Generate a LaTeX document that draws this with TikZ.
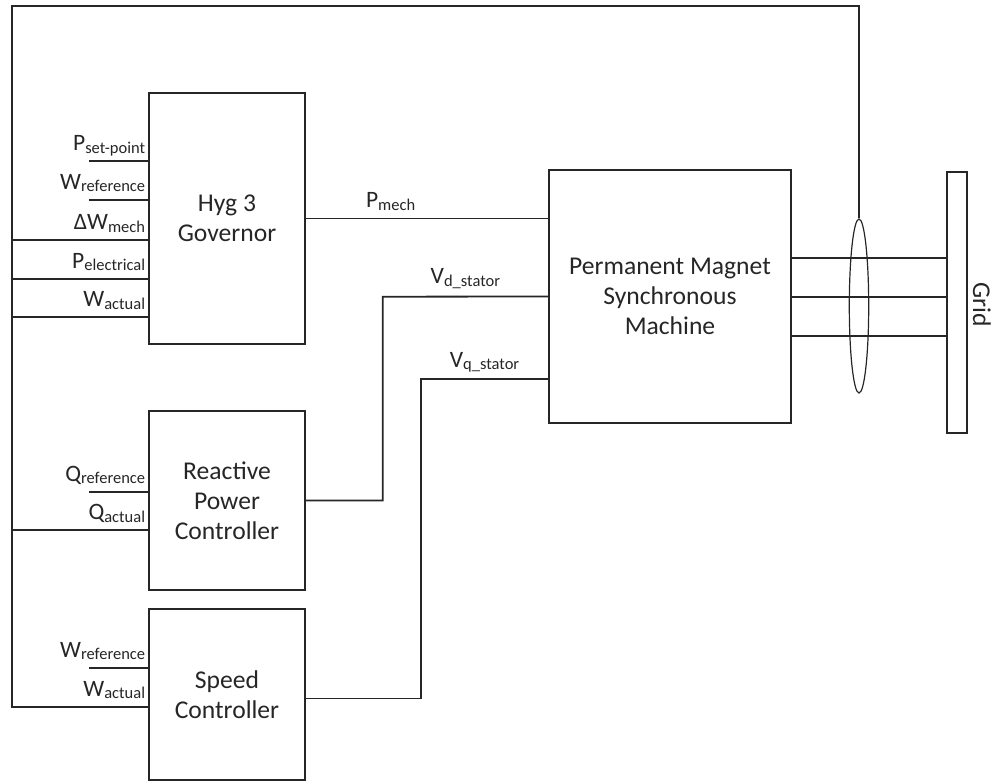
\documentclass[tikz,border=0pt]{standalone}
\usepackage{fontspec}
\setmainfont{Carlito}
\usetikzlibrary{shapes.geometric}
\newcommand{\sbs}[1]{\raisebox{-2.5pt}{\fontsize{16.5}{18}\selectfont #1}}

\begin{document}
\begin{tikzpicture}[x=1pt,y=-1pt,line width=1.8pt,draw=black!85,text=black!85,
	block/.style = {draw, rectangle, inner sep=0pt, align=center, font=\fontsize{25.6}{30}\selectfont},
	sig/.style = {anchor=base east, inner sep=0pt, font=\fontsize{23.5}{26}\selectfont},
	outsig/.style = {anchor=base, inner sep=0pt, font=\fontsize{23.5}{26}\selectfont}]
	\useasboundingbox (0,0) rectangle (993,784);
	% blocks
	\node [block, minimum width=156, minimum height=251] (hyg) at (227,218.5) {Hyg 3\\Governor};
	\node [block, minimum width=156, minimum height=179] (rpc) at (227,500.5) {Reactive\\Power\\Controller};
	\node [block, minimum width=156, minimum height=171] (spd) at (227,694.5) {Speed\\Controller};
	\node [block, minimum width=242, minimum height=253] (pmsm) at (670,296.5) {Permanent Magnet\\Synchronous\\Machine};
	\node [block, minimum width=20, minimum height=261] (grid) at (956.7,302.5) {};
	\node [rotate=-90, font=\fontsize{25.6}{30}\selectfont] (gridlbl) at (982,305) {Grid};
	% three phase connection and measurement
	\foreach \y in {258.3,297,336}
		\draw (pmsm.east |- 0,\y) -- (grid.west |- 0,\y);
	\node [draw, ellipse, minimum width=19.4, minimum height=174, inner sep=0pt, line width=1.2pt] (ell) at (859,306) {};
	% feedback bus
	\coordinate (bustop) at (12,6);
	\coordinate (busbot) at (12,706.7);
	\draw (ell.north) |- (bustop) -- (busbot) -- (spd.west |- busbot);
	\foreach \y in {240,278.7,317}
		\draw (bustop |- 0,\y) -- (hyg.west |- 0,\y);
	\draw (bustop |- 0,530) -- (rpc.west |- 0,530);
	% reference inputs
	\foreach \y in {161,199.7}
		\draw (89,\y) -- (hyg.west |- 0,\y);
	\draw (89,491.7) -- (rpc.west |- 0,491.7);
	\draw (89,667.7) -- (spd.west |- 0,667.7);
	% input labels
	\node [sig] (pset) at (146,150.5) {P\sbs{set-point}};
	\node [sig] (wref) at (146,189.2) {W\sbs{reference}};
	\node [sig] (dwmech) at (146,229.5) {ΔW\sbs{mech}};
	\node [sig] (pelec) at (146,268.2) {P\sbs{electrical}};
	\node [sig] (wact) at (146,306.5) {W\sbs{actual}};
	\node [sig] (qref) at (146,481.2) {Q\sbs{reference}};
	\node [sig] (qact) at (146,519.5) {Q\sbs{actual}};
	\node [sig] (wref2) at (146,657.2) {W\sbs{reference}};
	\node [sig] (wact2) at (146,696.2) {W\sbs{actual}};
	% outputs to the machine
	\coordinate (vdbend) at (382.7,296.7);
	\coordinate (vqbend) at (421,379);
	\draw (hyg.east) -- node [outsig, pos=0.35, yshift=11pt] (pmech) {P\sbs{mech}} (pmsm.west |- hyg.east);
	\draw (pmsm.west) -- node [outsig, yshift=13pt] (vd) {V\sbs{d\_stator}} (vdbend) |- (rpc.east);
	\draw (pmsm.west |- vqbend) -- node [outsig, yshift=12pt] (vq) {V\sbs{q\_stator}} (vqbend) |- ([yshift=-4pt]spd.east);
\end{tikzpicture}
\end{document}
